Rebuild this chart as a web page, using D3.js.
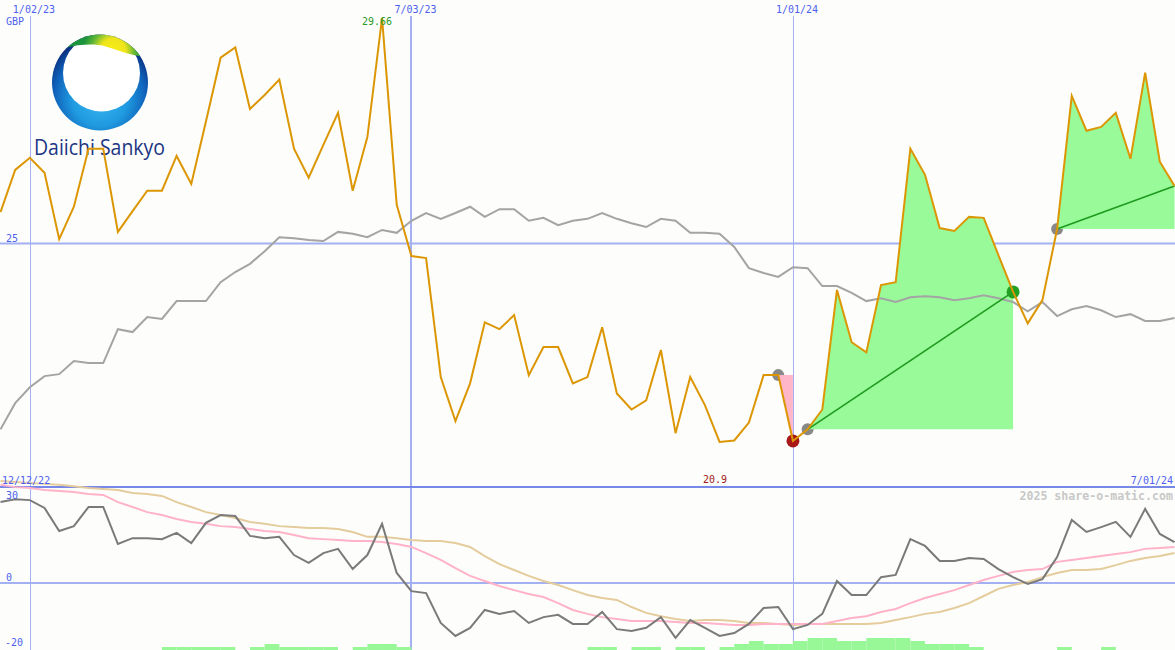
<!DOCTYPE html>
<html><head><meta charset="utf-8">
<script src="https://cdn.jsdelivr.net/npm/d3@7"></script>
<style>body{margin:0;background:#fdfefb}svg{display:block}</style>
</head><body><svg id="c" width="1175" height="650"></svg>
<script>
// ---------- data ----------
const startWeek = "2022-12-19";   // first weekly point
const price = [25.65,26.52,26.77,26.46,25.09,25.76,26.96,26.96,25.24,25.67,
  26.09,26.09,26.81,26.23,27.52,28.84,29.05,27.78,28.07,28.39,
  26.96,26.36,27.04,27.70,26.09,27.20,29.66,25.80,24.74,24.70,
  22.24,21.33,22.11,23.37,23.23,23.52,22.28,22.86,22.86,22.11,
  22.24,23.27,21.90,21.57,21.76,22.80,21.08,22.24,21.66,20.90,
  20.93,21.30,22.28,22.28,20.92,21.16,21.57,24.04,22.96,22.75,
  24.14,24.20,26.96,26.42,25.32,25.26,25.55,25.53,24.76,24.00,
  23.35,23.83,25.30,28.05,27.33,27.41,27.70,26.75,28.53,26.69,26.19];
const movingAvg = [21.16,21.70,22.03,22.26,22.30,22.57,22.53,22.53,23.23,23.17,
  23.48,23.44,23.81,23.81,23.81,24.20,24.41,24.58,24.84,25.13,
  25.11,25.07,25.05,25.24,25.20,25.13,25.28,25.22,25.47,25.63,
  25.51,25.63,25.76,25.55,25.71,25.71,25.47,25.53,25.38,25.47,
  25.51,25.63,25.51,25.42,25.34,25.51,25.47,25.22,25.22,25.20,
  24.93,24.49,24.39,24.31,24.51,24.49,24.12,24.12,23.98,23.81,
  23.87,23.79,23.89,23.91,23.89,23.83,23.87,23.93,23.87,23.79,
  23.60,23.79,23.50,23.64,23.71,23.62,23.48,23.54,23.40,23.40,23.46];
const oscillator = [24.9,25.8,25.5,23.1,16.0,17.5,23.4,23.4,12.0,13.8,
  13.8,13.5,15.4,12.3,18.5,20.9,20.6,14.5,13.8,14.2,
  8.6,6.2,9.2,10.5,4.3,8.6,18.2,3.1,-2.5,-3.1,
  -12.3,-16.3,-13.8,-8.3,-9.5,-8.6,-12.3,-10.5,-9.8,-12.6,
  -12.6,-8.9,-14.2,-14.8,-13.8,-10.5,-16.9,-11.4,-13.8,-16.3,
  -15.4,-12.6,-7.7,-7.4,-14.2,-12.9,-9.5,0.6,-3.7,-3.7,
  1.8,2.5,13.5,11.4,6.8,6.8,7.7,7.4,4.3,1.8,
  -0.3,1.2,8.0,19.4,15.7,17.2,18.8,14.2,22.8,15.1,12.6];
const signalFast = [30.2,29.5,29.2,28.6,28.3,28.0,27.4,27.1,24.9,23.4,
  21.8,20.9,19.7,18.8,18.2,17.5,17.2,16.6,16.0,15.7,
  14.8,13.8,13.5,13.2,12.9,12.9,12.6,12.0,11.1,9.2,
  7.1,4.6,2.2,0.6,-0.9,-2.2,-3.4,-4.3,-6.2,-8.3,
  -9.5,-10.5,-11.1,-11.7,-11.7,-11.7,-12.0,-12.3,-12.3,-12.6,
  -12.9,-12.9,-12.6,-12.6,-12.6,-12.6,-12.6,-11.7,-10.8,-10.2,
  -8.9,-8.0,-6.2,-4.6,-3.4,-2.2,-0.6,0.9,2.2,3.4,
  4.0,4.3,6.5,7.1,7.7,8.3,8.9,9.5,10.5,10.8,11.1];
const signalSlow = [31.4,31.1,30.8,30.5,30.2,29.8,29.2,28.9,28.6,27.7,
  27.4,26.8,24.9,23.4,21.8,20.9,20.0,18.8,18.2,17.5,
  17.2,16.9,16.9,16.6,15.7,14.2,14.2,13.8,13.2,12.9,
  12.9,12.3,11.1,8.3,5.8,4.0,2.2,0.6,-0.6,-2.2,
  -3.7,-4.6,-5.2,-7.4,-9.2,-10.2,-11.1,-11.7,-11.4,-11.4,
  -11.7,-12.3,-12.3,-12.6,-12.9,-12.6,-12.6,-12.6,-12.6,-12.6,
  -12.3,-11.4,-10.5,-9.5,-8.9,-7.7,-6.2,-4.0,-1.8,-0.6,
  0.3,1.8,3.1,4.0,4.0,4.3,5.5,6.8,7.7,8.3,9.2];
const volumeLevel = [0,0,0,0,0,0,0,0,0,0,
  0,1,1,1,1,1,0,1,2,1,
  1,1,1,0,1,2,2,1,0,0,
  0,0,0,0,0,0,0,0,0,0,
  1,1,0,1,1,0,1,1,0,1,
  2,3,2,2,3,4,4,3,3,4,
  4,4,3,2,2,2,1,0,0,0,
  0,0,1,0,0,1,0,0,0,0,0];
const tradeEntry = [53, 55, 72];
const tradeExit  = [54, 69, 80];
const tradeClosed = [true, true, false];
const dateTicks = ["2023-01-02","2023-07-03","2024-01-01"];
const dateTickLabels = ["1/02/23","7/03/23","1/01/24"];
const priceTicks = [25];
const oscTicks = [30, 0, -20];
const oscGrid = [0];
const highIndex = 26, lowIndex = 49;
const currency = "GBP";
const leftDateLabel = "12/12/22", rightDateLabel = "7/01/24";
const watermark = "2025 share-o-matic.com";
const companyName = "Daiichi Sankyo";

// ---------- setup ----------
const W = 1175, H = 650;
const svg = d3.select("#c");
const parse = d3.utcParse("%Y-%m-%d");
const t0 = parse(startWeek);
const dates = price.map((_, i) => d3.utcDay.offset(t0, 7 * i));

const x = d3.scaleUtc().domain([dates[0], dates[dates.length - 1]]).range([0.5, 1174.5]);
const y = d3.scaleLinear().domain([25, 29.66]).range([243.5, 18]);
const y2 = d3.scaleLinear().domain([0, -20]).range([583, 648]);
const yv = d3.scaleLinear().domain([0, 4]).range([650, 638]);

const FONT = "'DejaVu Sans Mono', monospace";
const BLUE = "#4d5ff0";
const GRID = "#a3b0f2";

svg.append("rect").attr("width", W).attr("height", H).attr("fill", "#fdfefb");

// ---------- grid ----------
const g = svg.append("g");
dateTicks.forEach((d, i) => {
  const xx = Math.round(x(parse(d))) + (i === 1 ? 0 : 0.5);
  g.append("line").attr("x1", xx).attr("x2", xx).attr("y1", 16).attr("y2", H)
    .attr("stroke", GRID).attr("stroke-width", i === 1 ? 2 : 1);
});
priceTicks.forEach(v => {
  g.append("line").attr("x1", 0).attr("x2", W).attr("y1", y(v)).attr("y2", y(v))
    .attr("stroke", GRID).attr("stroke-width", 2);
});
oscGrid.forEach(v => {
  g.append("line").attr("x1", 0).attr("x2", W).attr("y1", y2(v)).attr("y2", y2(v))
    .attr("stroke", GRID).attr("stroke-width", 2);
});
g.append("line").attr("x1", 0).attr("x2", W).attr("y1", 487).attr("y2", 487)
  .attr("stroke", "#7888e8").attr("stroke-width", 2);

// ---------- logo ----------
const defs = svg.append("defs");
const lg = defs.append("radialGradient").attr("id", "lg").attr("gradientUnits", "userSpaceOnUse")
  .attr("cx", 100).attr("cy", 98).attr("r", 62);
[[0, "#3cb8f2"], [0.45, "#1f9ae0"], [0.75, "#0f5fb8"], [1, "#0a2470"]].forEach(s =>
  lg.append("stop").attr("offset", s[0]).attr("stop-color", s[1]));
const bg = defs.append("radialGradient").attr("id", "bandg").attr("gradientUnits", "userSpaceOnUse")
  .attr("cx", 113).attr("cy", 51).attr("r", 30);
[[0, "#fbee14"], [0.42, "#eee41c"], [0.72, "#62b836"], [1, "#1c943c"]].forEach(s =>
  bg.append("stop").attr("offset", s[0]).attr("stop-color", s[1]));
defs.append("clipPath").attr("id", "logoClip").append("circle")
  .attr("cx", 100).attr("cy", 82.5).attr("r", 48);
const logo = svg.append("g");
logo.append("circle").attr("cx", 100).attr("cy", 82.5).attr("r", 48).attr("fill", "url(#lg)");
const lc = logo.append("g").attr("clip-path", "url(#logoClip)");
lc.append("circle").attr("cx", 101.5).attr("cy", 73).attr("r", 38.5).attr("fill", "#ffffff");
lc.append("path").attr("d", "M40 20 L170 20 L170 60 L139 56 C128 54.5 118 50 104 46 C95 43.5 80 44 64 48 Z")
  .attr("fill", "url(#bandg)");
logo.append("text").attr("x", 34).attr("y", 155).attr("font-family", "'Open Sans', sans-serif")
  .attr("font-size", 21).attr("fill", "#1b3584").attr("textLength", 131)
  .attr("lengthAdjust", "spacingAndGlyphs").text(companyName);

// ---------- oscillator panel ----------
const bars = svg.append("g");
volumeLevel.forEach((v, i) => {
  if (!v || i >= dates.length - 1) return;
  bars.append("rect").attr("x", x(dates[i])).attr("width", x(dates[i + 1]) - x(dates[i]))
    .attr("y", yv(v)).attr("height", yv(0) - yv(v)).attr("fill", "#98f898");
});
const lineO = d3.line().x((d, i) => x(dates[i])).y(d => y2(d));
svg.append("path").attr("d", lineO(signalSlow)).attr("fill", "none").attr("stroke", "#e4cc9c").attr("stroke-width", 2);
svg.append("path").attr("d", lineO(signalFast)).attr("fill", "none").attr("stroke", "#ffb2c8").attr("stroke-width", 2);
svg.append("path").attr("d", lineO(oscillator)).attr("fill", "none").attr("stroke", "#7a7a7a").attr("stroke-width", 2);

// ---------- trades ----------
const tg = svg.append("g");
tradeEntry.forEach((e, k) => {
  tg.append("circle").attr("cx", x(dates[e])).attr("cy", y(price[e])).attr("r", 6).attr("fill", "#888888");
});
tradeEntry.forEach((e, k) => {
  const ex = tradeExit[k];
  const idx = d3.range(e, ex + 1);
  const win = price[ex] >= price[e];
  const area = d3.area().x(i => x(dates[i])).y0(y(price[e])).y1(i => y(price[i]));
  tg.append("path").attr("d", area(idx)).attr("fill", win ? "#98fa98" : "#ffb6c8");
});

// moving average
const lineP = d3.line().x((d, i) => x(dates[i])).y(d => y(d));
svg.append("path").attr("d", lineP(movingAvg)).attr("fill", "none").attr("stroke", "#a4a4a4").attr("stroke-width", 2);

tradeEntry.forEach((e, k) => {
  const ex = tradeExit[k];
  const win = price[ex] >= price[e];
  if (win) {
    svg.append("line").attr("x1", x(dates[e])).attr("y1", y(price[e]))
      .attr("x2", x(dates[ex])).attr("y2", y(price[ex]))
      .attr("stroke", "#1e9a1e").attr("stroke-width", 1.6);
  }
  if (tradeClosed[k]) {
    svg.append("circle").attr("cx", x(dates[ex])).attr("cy", y(price[ex])).attr("r", 6.5)
      .attr("fill", win ? "#22a022" : "#a81818");
  }
});

// price line
svg.append("path").attr("d", lineP(price)).attr("fill", "none").attr("stroke", "#dc9604")
  .attr("stroke-width", 2).attr("stroke-linejoin", "miter");

// ---------- labels ----------
const txt = (s, xx, yy, col, anchor, extra) => {
  const t = svg.append("text").attr("x", xx).attr("y", yy).attr("fill", col)
    .attr("font-family", FONT).attr("font-size", 10).attr("text-anchor", anchor || "start").text(s);
  if (extra) extra(t);
  return t;
};
dateTicks.forEach((d, i) => txt(dateTickLabels[i], x(parse(d)) - 17, 13, BLUE));
txt(currency, 6, 25, BLUE);
priceTicks.forEach(v => txt(String(v), 6, y(v) - 1.5, BLUE));
txt(String(price[highIndex]), x(dates[highIndex]) - 5, 25, "#2a9a2a", "middle");
txt(String(price[lowIndex].toFixed(1)), x(dates[lowIndex]) - 4.5, 483, "#a01818", "middle");
txt(leftDateLabel, 2, 484, BLUE);
txt(rightDateLabel, 1173, 484, BLUE, "end");
txt(watermark, 1173, 500, "#c8c8c8", "end", t => t.attr("font-size", 11.6).attr("font-weight", "bold"));
txt(String(oscTicks[0]), 6, 499, BLUE);
txt(String(oscTicks[1]), 6, y2(oscTicks[1]) - 2, BLUE);
txt(String(oscTicks[2]), 5, 646, BLUE);
</script></body></html>
